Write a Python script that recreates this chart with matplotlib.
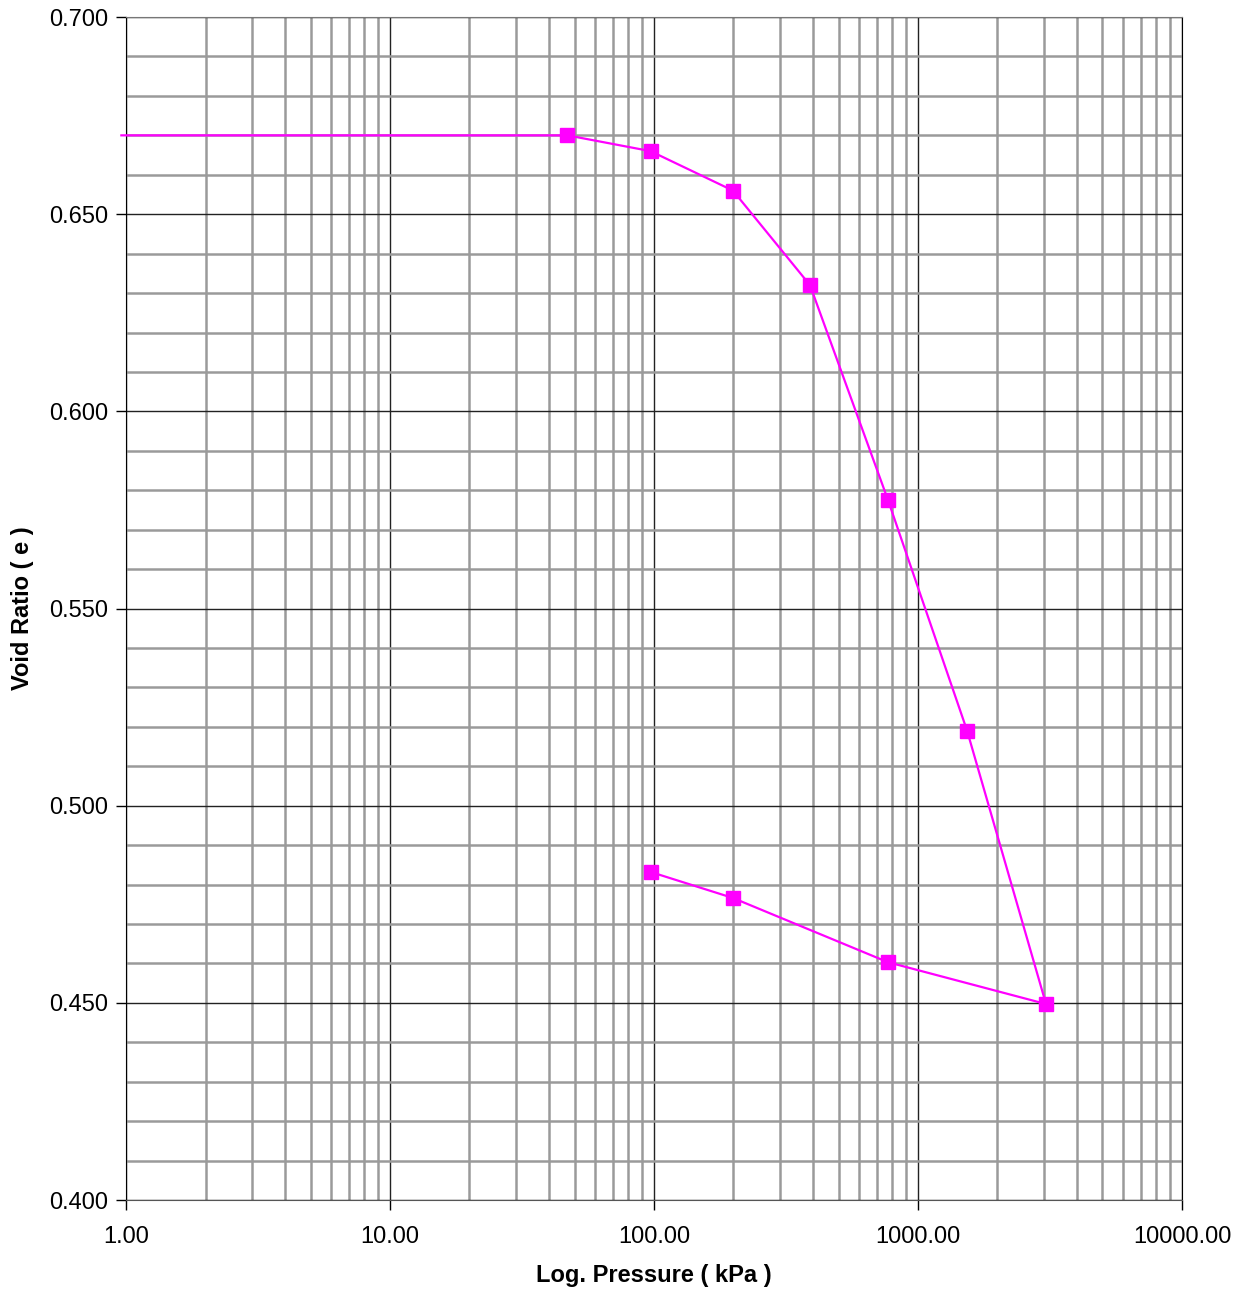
import matplotlib
matplotlib.use('Agg')
import matplotlib.pyplot as plt
from matplotlib.ticker import LogLocator, MultipleLocator, FormatStrFormatter, NullFormatter

#  Consolidation test: loading then unloading
pressure = [0.96, 47, 97, 199, 390, 770, 1535, 3055, 770, 199, 97]
void_ratio = [0.670, 0.670, 0.666, 0.656, 0.632, 0.5775, 0.519, 0.4497, 0.4603, 0.4766, 0.4832]

plt.rcParams['font.family'] = ['Liberation Sans', 'DejaVu Sans']

fig = plt.figure(figsize=(12.53, 12.92), dpi=100)
ax = fig.add_axes([0.1006, 0.0712, 0.8427, 0.9156])

#  Curve, first point is the seating value (no marker)
ax.plot(pressure, void_ratio, color='#FF00FF', lw=1.6,
        marker='s', ms=10, mec='#FF00FF', mfc='#FF00FF',
        markevery=list(range(1, len(pressure))), clip_on=False, zorder=5)

ax.set_xscale('log')
ax.set_xlim(1, 10000)
ax.set_ylim(0.4, 0.7)

#  Ticks and grid
ax.xaxis.set_major_locator(LogLocator(base=10))
ax.xaxis.set_minor_locator(LogLocator(base=10, subs=range(2, 10)))
ax.xaxis.set_major_formatter(FormatStrFormatter('%.2f'))
ax.xaxis.set_minor_formatter(NullFormatter())
ax.yaxis.set_major_locator(MultipleLocator(0.05))
ax.yaxis.set_minor_locator(MultipleLocator(0.01))
ax.yaxis.set_major_formatter(FormatStrFormatter('%.3f'))

ax.grid(which='minor', color='#9a9a9a', lw=1.8, zorder=0)
ax.grid(which='major', color='#222222', lw=1.0, zorder=1)
ax.set_axisbelow(True)

ax.tick_params(which='minor', length=0)
ax.tick_params(axis='y', which='major', length=7, width=1, direction='out', labelsize=17, pad=6)
ax.tick_params(axis='x', which='major', length=7, width=1, direction='out', labelsize=17, pad=12)

ax.spines['top'].set_color('#777777')
ax.spines['right'].set_color('black')
ax.spines['left'].set_color('black')
ax.spines['bottom'].set_color('#555555')

ax.set_xlabel('Log. Pressure ( kPa )', fontsize=17, fontweight='bold', va='center')
ax.set_ylabel('Void Ratio ( e )', fontsize=17, fontweight='bold', va='center')
ax.xaxis.set_label_coords(0.5, -0.064)
ax.yaxis.set_label_coords(-0.098, 0.5)

fig.savefig('out.png', dpi=100)
